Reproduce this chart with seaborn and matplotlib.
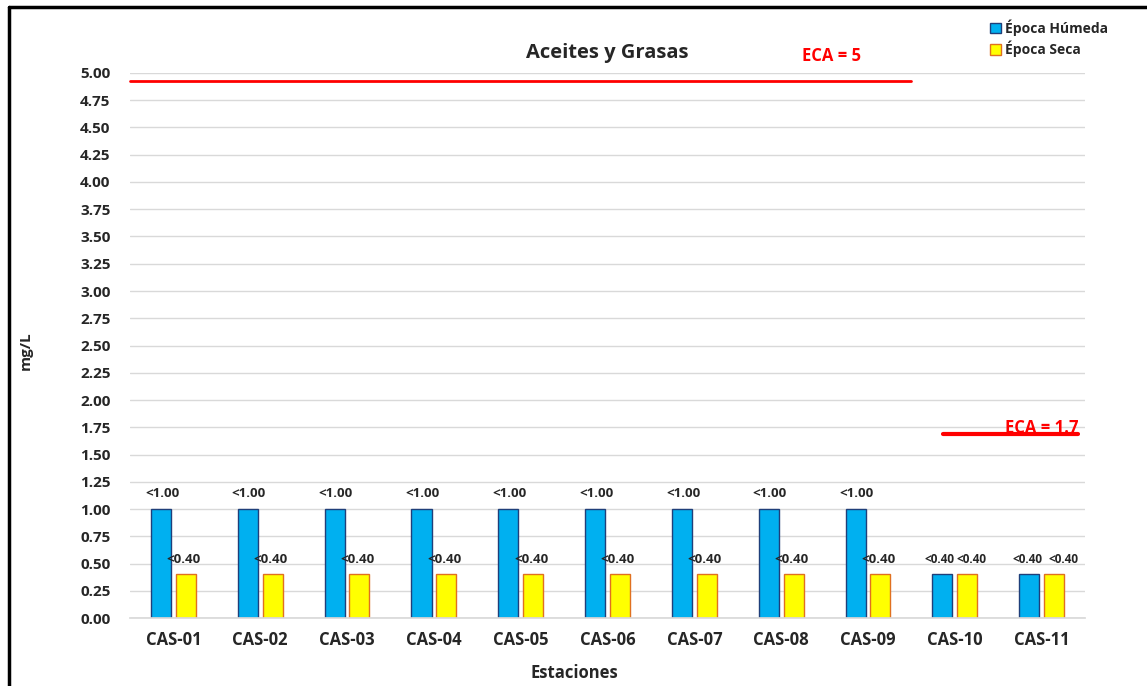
import matplotlib
matplotlib.use("Agg")
import matplotlib.pyplot as plt
from matplotlib.lines import Line2D
from matplotlib.patches import Patch
import seaborn as sns
import pandas as pd

# データ
estaciones = ["CAS-01", "CAS-02", "CAS-03", "CAS-04", "CAS-05", "CAS-06",
              "CAS-07", "CAS-08", "CAS-09", "CAS-10", "CAS-11"]
humeda = [1.0, 1.0, 1.0, 1.0, 1.0, 1.0, 1.0, 1.0, 1.0, 0.4, 0.4]
seca = [0.4, 0.4, 0.4, 0.4, 0.4, 0.4, 0.4, 0.4, 0.4, 0.4, 0.4]
humeda_lbl = ["<1.00"] * 9 + ["<0.40", "<0.40"]
seca_lbl = ["<0.40"] * 11
eca_5 = 4.93
eca_17 = 1.69

sns.set_theme(style="white")
plt.rcParams["font.family"] = ["Open Sans", "DejaVu Sans"]
plt.rcParams["font.weight"] = "bold"

df = pd.DataFrame({
    "Estación": estaciones * 2,
    "valor": humeda + seca,
    "Época": ["Época Húmeda"] * len(estaciones) + ["Época Seca"] * len(estaciones),
})

fig = plt.figure(figsize=(11.47, 6.86), dpi=100)
ax = fig.add_axes([0.1133, 0.0991, 0.8327, 0.7945])

sns.barplot(data=df, x="Estación", y="valor", hue="Época",
            palette={"Época Húmeda": "#00B0F0", "Época Seca": "#FFFF00"},
            saturation=1, width=0.57, gap=0.19, ax=ax, legend=False, errorbar=None)

# 枠線の色
for bar, ec in zip(ax.patches, ["#1F3F7A"] * 11 + ["#E07020"] * 11):
    bar.set_edgecolor(ec)
    bar.set_linewidth(1.0)

ax.set_ylim(0, 5.0)
ax.set_xlim(-0.5, len(estaciones) - 0.5)
ax.set_yticks([i * 0.25 for i in range(21)])
ax.set_yticklabels([f"{i * 0.25:.2f}" for i in range(21)], fontsize=11, fontweight="bold")
ax.set_xticks(range(len(estaciones)))
ax.set_xticklabels(estaciones, fontsize=12, fontweight="bold")
ax.tick_params(axis="x", pad=9, length=0)
ax.tick_params(axis="y", pad=14, length=0)
ax.yaxis.grid(True, color="#D9D9D9", linewidth=1)
ax.set_axisbelow(True)
for s in ["left", "right", "top"]:
    ax.spines[s].set_visible(False)
ax.spines["bottom"].set_color("#D9D9D9")

ax.set_xlabel("Estaciones", fontsize=12, fontweight="bold")
ax.xaxis.set_label_coords(0.465, -0.085)
ax.set_ylabel("mg/L", fontsize=11, fontweight="bold")
ax.yaxis.set_label_coords(-0.102, 0.49)
ax.set_title("Aceites y Grasas", fontsize=14.5, fontweight="bold", pad=11)

# ラベル (CAS-10, CAS-11 は詰めて配置)
lbl_kw = dict(ha="center", va="bottom", fontweight="bold", color="#262626")
for i in range(len(estaciones)):
    if i < 9:
        ax.text(i - 0.13, humeda[i] + 0.08, humeda_lbl[i], fontsize=9.5, **lbl_kw)
        ax.text(i + 0.12, seca[i] + 0.08, seca_lbl[i], fontsize=9.5, **lbl_kw)
    else:
        dl, dr = (-0.18, 0.19) if i == 9 else (-0.165, 0.25)
        ax.text(i + dl, humeda[i] + 0.08, humeda_lbl[i], fontsize=8.5, **lbl_kw)
        ax.text(i + dr, seca[i] + 0.08, seca_lbl[i], fontsize=8.5, **lbl_kw)

# ECA ライン
ax.plot([-0.5, 8.49], [eca_5, eca_5], color="#FF0000", linewidth=2, clip_on=False)
ax.text(7.58, 5.07, "ECA = 5", color="#FF0000", fontsize=12, fontweight="bold",
        ha="center", va="bottom", clip_on=False)
ax.plot([8.86, 10.42], [eca_17, eca_17], color="#FF0000", linewidth=3, clip_on=False)
ax.text(10.42, eca_17 - 0.03, "ECA = 1.7", color="#FF0000", fontsize=12, fontweight="bold",
        ha="right", va="bottom", clip_on=False)

# 凡例
handles = [Patch(facecolor="#00B0F0", edgecolor="#1F3F7A", label="Época Húmeda"),
           Patch(facecolor="#FFFF00", edgecolor="#E07020", label="Época Seca")]
fig.legend(handles=handles, loc="upper left", bbox_to_anchor=(0.852, 0.99),
           frameon=False, prop={"weight": "bold", "size": 10},
           handlelength=0.8, handleheight=0.8, handletextpad=0.3, labelspacing=0.35)

# 外枠
fig.add_artist(Line2D([0.008, 0.008], [0, 0.99], transform=fig.transFigure,
                      color="black", linewidth=2.5))
fig.add_artist(Line2D([0.008, 1.0], [0.99, 0.99], transform=fig.transFigure,
                      color="black", linewidth=2.5))

fig.savefig("out.png", dpi=100)
